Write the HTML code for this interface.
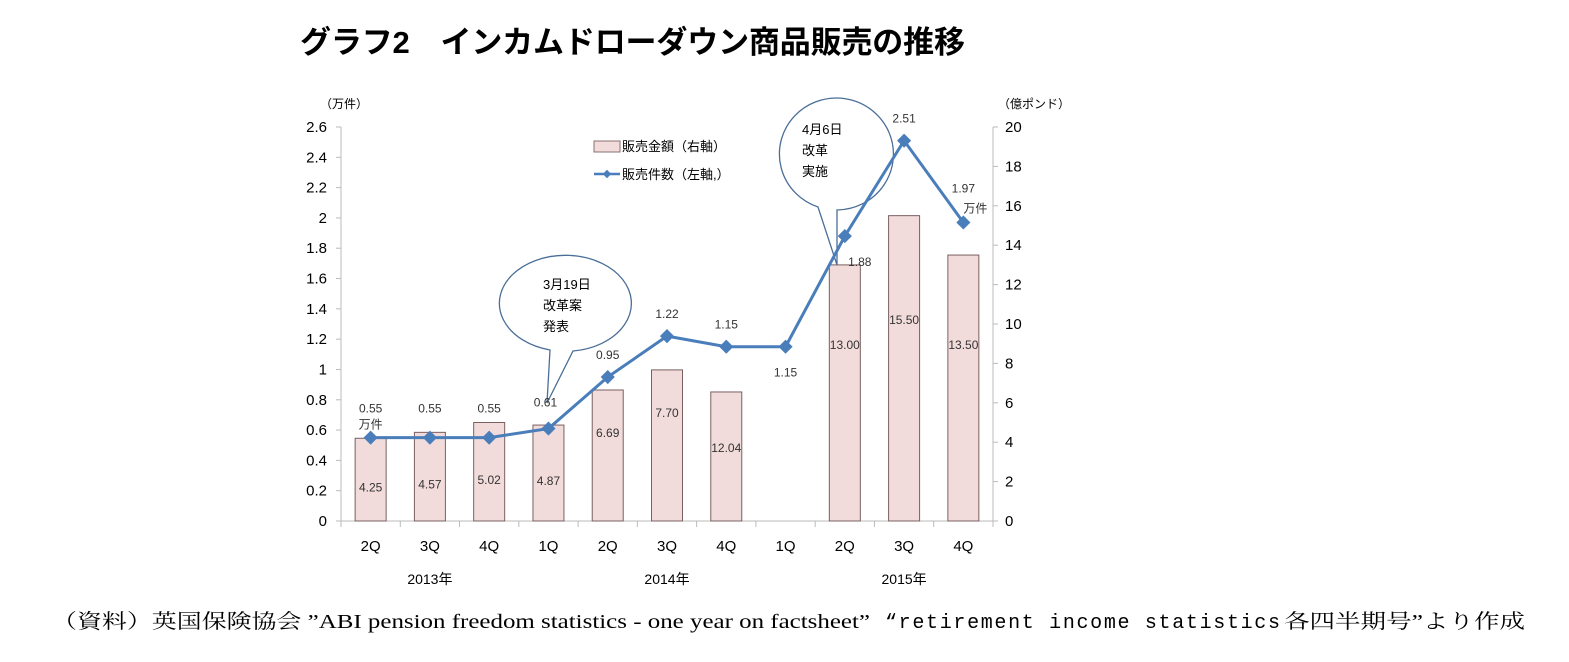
<!DOCTYPE html>
<html><head><meta charset="utf-8"><style>
body{margin:0;background:#fff;width:1569px;height:657px;overflow:hidden}
svg text{font-family:"Liberation Sans","Noto Sans CJK JP",sans-serif}
</style></head><body>
<svg id="chart" width="1569" height="657">
<text x="300" y="53" font-size="31" font-weight="bold" textLength="665">グラフ2　インカムドローダウン商品販売の推移</text>
<text x="320" y="108" font-size="12">（万件）</text>
<text x="998" y="108" font-size="12">（億ポンド）</text>
<g id="axes"></g><g id="bars"></g><g id="callouts"></g><g id="line"></g><g id="labels"></g>
<rect x="594" y="141" width="26" height="11" fill="#f2dcdb" stroke="#8c7070"/>
<text x="622" y="151" font-size="13">販売金額（右軸）</text>
<line x1="594" y1="174" x2="620" y2="174" stroke="#4a7ebb" stroke-width="2.5"/>
<rect x="604" y="171" width="6" height="6" fill="#4a7ebb" transform="rotate(45 607 174)"/>
<text x="622" y="179" font-size="13">販売件数（左軸,）</text>
<g>
<text x="52" y="628" font-size="20" textLength="818" lengthAdjust="spacingAndGlyphs" style="font-family:'Liberation Serif','Noto Serif CJK SC',serif">（資料）英国保険協会 ”ABI pension freedom statistics - one year on factsheet”</text>
<text x="885" y="628" font-size="20" textLength="395" lengthAdjust="spacing" style="font-family:'Liberation Mono','Noto Serif CJK SC',monospace">“retirement income statistics</text>
<text x="1284" y="628" font-size="20" textLength="241" lengthAdjust="spacingAndGlyphs" style="font-family:'Liberation Serif','Noto Serif CJK SC',serif">各四半期号”より作成</text>
</g>
</svg>
<script>
const categories=["2Q","3Q","4Q","1Q","2Q","3Q","4Q","1Q","2Q","3Q","4Q"];
const years=["2013年","2014年","2015年"];
const yearCenters=[1,5,9];
const barValues=[4.2,4.5,5.0,4.87,6.65,7.67,6.55,null,13.0,15.5,13.5];
const barLabels=["4.25","4.57","5.02","4.87","6.69","7.70","12.04","","13.00","15.50","13.50"];
const lineValues=[0.55,0.55,0.55,0.61,0.95,1.22,1.15,1.15,1.88,2.51,1.97];
const lineLabels=["0.55","0.55","0.55","0.61","0.95","1.22","1.15","1.15","1.88","2.51","1.97"];
const leftTicks=[0,0.2,0.4,0.6,0.8,1,1.2,1.4,1.6,1.8,2,2.2,2.4,2.6];
const rightTicks=[0,2,4,6,8,10,12,14,16,18,20];

const NS="http://www.w3.org/2000/svg";
const X0=341,X1=993,Y0=521,Y1=127,step=(X1-X0)/categories.length;
const xC=i=>X0+step*(i+0.5);
const yL=v=>Y0-v/2.6*(Y0-Y1);
const yR=v=>Y0-v/20*(Y0-Y1);
function mk(tag,attrs,parent,text){const e=document.createElementNS(NS,tag);for(const k in attrs)e.setAttribute(k,attrs[k]);if(text!==undefined)e.textContent=text;document.getElementById(parent).appendChild(e);return e;}

let e;
e=mk('line',{x1:X0,y1:Y1,x2:X0,y2:Y0,stroke:'#bbb'},'axes');


e=mk('line',{x1:X1,y1:Y1,x2:X1,y2:Y0,stroke:'#bbb'},'axes');


e=mk('line',{x1:X0,y1:Y0,x2:X1,y2:Y0,stroke:'#bbb'},'axes');


leftTicks.forEach(t=>{
 mk('line',{x1:X0-5,y1:yL(t),x2:X0,y2:yL(t),stroke:'#bbb'},'axes');
 e=mk('text',{x:X0-14,y:yL(t)+5,'font-size':15,'text-anchor':'end'},'axes',String(t));
 
 
});
rightTicks.forEach(t=>{
 mk('line',{x1:X1,y1:yR(t),x2:X1+5,y2:yR(t),stroke:'#bbb'},'axes');
 e=mk('text',{x:X1+12,y:yR(t)+5,'font-size':15},'axes',String(t));
 
 
});
for(let i=0;i<=categories.length;i++)mk('line',{x1:X0+step*i,y1:Y0,x2:X0+step*i,y2:Y0+6,stroke:'#bbb'},'axes');
categories.forEach((c,i)=>{
 e=mk('text',{x:xC(i),y:551,'font-size':15,'text-anchor':'middle'},'axes',c);
 
 
});
years.forEach((y,i)=>{
 e=mk('text',{x:xC(yearCenters[i]),y:584,'font-size':14,'text-anchor':'middle'},'axes',y);
 
 
});
barValues.forEach((v,i)=>{
 if(v==null)return;
 e=mk('rect',{x:xC(i)-15.5,y:yR(v),width:31,height:Y0-yR(v),fill:'#f2dcdb',stroke:'#7a6060'},'bars');
 
 
 e=mk('text',{x:xC(i),y:(Y0+yR(v))/2+(i<7?12:-8),'font-size':12,'text-anchor':'middle',fill:'#333'},'labels',barLabels[i]);
 if(i>=4&&i<=6)e.setAttribute('y',yR(v)+(i==6?60:47));
 if(i>=8)e.setAttribute('y',[0,0,0,0,0,0,0,0,349,324,349][i]);
 
 
});
// callouts
e=mk('path',{d:'M550,350 A66,48 0 1 1 573,351 L547,403 Z',fill:'#fff',stroke:'#4a6e98','stroke-width':1.3},'callouts');


[["3月19日",289],["改革案",310],["発表",331]].forEach(t=>mk('text',{x:543,y:t[1],'font-size':13},'callouts',t[0]));
e=mk('path',{d:'M818,207 A57,56 0 1 1 837,210 L837,265 Z',fill:'#fff',stroke:'#4a6e98','stroke-width':1.3},'callouts');


[["4月6日",134],["改革",155],["実施",176]].forEach(t=>mk('text',{x:802,y:t[1],'font-size':13},'callouts',t[0]));
// line
e=mk('polyline',{points:lineValues.map((v,i)=>xC(i)+','+yL(v)).join(' '),fill:'none',stroke:'#4a7ebb','stroke-width':3},'line');


lineValues.forEach((v,i)=>{
 e=mk('rect',{x:xC(i)-5,y:yL(v)-5,width:10,height:10,fill:'#4a7ebb',transform:`rotate(45 ${xC(i)} ${yL(v)})`},'line');
 
 
 const off=[[0,-25],[0,-25],[0,-25],[-3,-22],[0,-18],[0,-18],[0,-18],[0,30],[15,30],[0,-18],[0,-30]][i];
 e=mk('text',{x:xC(i)+off[0],y:yL(v)+off[1],'font-size':12,'text-anchor':'middle',fill:'#333'},'labels',lineLabels[i]);
 
 
});
mk('text',{x:xC(0),y:yL(lineValues[0])-9,'font-size':12,'text-anchor':'middle',fill:'#333'},'labels','万件');
mk('text',{x:xC(10)+12,y:yL(lineValues[10])-10,'font-size':12,'text-anchor':'middle',fill:'#333'},'labels','万件');
</script>
</body></html>
